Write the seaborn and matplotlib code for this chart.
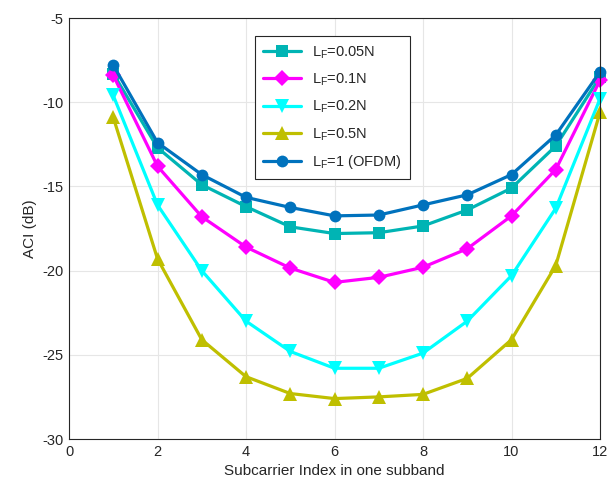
import pandas as pd
import matplotlib.pyplot as plt
import seaborn as sns
import numpy as np

# subcarrier index and ACI per filter length (dB)
subcarrier = [1, 2, 3, 4, 5, 6, 7, 8, 9, 10, 11, 12]

aci_005 = [-8.3, -12.7, -14.9, -16.2, -17.4, -17.8, -17.75, -17.35, -16.4, -15.1, -12.6, -8.5]
aci_01 = [-8.4, -13.8, -16.8, -18.6, -19.85, -20.7, -20.4, -19.8, -18.7, -16.75, -14.0, -8.7]
aci_02 = [-9.6, -16.1, -20.0, -23.0, -24.8, -25.8, -25.8, -24.9, -23.0, -20.3, -16.3, -9.8]
aci_05 = [-10.9, -19.3, -24.1, -26.3, -27.3, -27.6, -27.5, -27.35, -26.4, -24.1, -19.7, -10.6]
aci_ofdm = [-7.8, -12.4, -14.3, -15.65, -16.25, -16.75, -16.7, -16.1, -15.5, -14.3, -11.95, -8.2]

labels = [r'$\mathregular{L_F}$=0.05N', r'$\mathregular{L_F}$=0.1N',
          r'$\mathregular{L_F}$=0.2N', r'$\mathregular{L_F}$=0.5N',
          r'$\mathregular{L_F}$=1 (OFDM)']
series = [aci_005, aci_01, aci_02, aci_05, aci_ofdm]
colors = ['#00B4B4', '#FF00FF', '#00FFFF', '#BFBF00', '#0072BD']
markers = ['s', 'D', 'v', '^', 'o']

rows = []
for lab, vals in zip(labels, series):
    for x, v in zip(subcarrier, vals):
        rows.append({'Subcarrier': x, 'ACI': v, 'Scheme': lab})
df = pd.DataFrame(rows)

sns.set_theme(style="whitegrid")
plt.rcParams['font.family'] = ['Liberation Sans', 'DejaVu Sans']
plt.rcParams['mathtext.fontset'] = 'custom'
plt.rcParams['mathtext.rm'] = 'Liberation Sans'
plt.rcParams['axes.unicode_minus'] = False

fig = plt.figure(figsize=(6.1, 4.92), dpi=100)
ax = fig.add_axes([69 / 610, 1 - 439 / 492, (600 - 69) / 610, (439 - 18) / 492])

sns.lineplot(data=df, x='Subcarrier', y='ACI', hue='Scheme', style='Scheme',
             hue_order=labels, style_order=labels, palette=colors,
             markers=markers, dashes=False, markersize=8.5, linewidth=2.3,
             markeredgewidth=0, ax=ax)

# triangles look smaller at the same size, bump them up a bit
for ln in ax.lines:
    ln.set_clip_on(False)
    if ln.get_marker() in ('v', '^'):
        ln.set_markersize(10.5)

ax.set_xlim(0, 12)
ax.set_ylim(-30, -5)
ax.set_xticks(np.arange(0, 13, 2))
ax.set_yticks(np.arange(-30, -4, 5))
ax.set_xlabel('Subcarrier Index in one subband', fontsize=11, color='#262626')
ax.set_ylabel('ACI (dB)', fontsize=11, color='#262626')
ax.tick_params(labelsize=10.5, colors='#262626', length=0, pad=4)
ax.grid(True, color='#e6e6e6', linewidth=0.8)
for s in ax.spines.values():
    s.set_color('#262626')
    s.set_linewidth(0.8)
ax.set_facecolor('white')

leg = ax.legend(loc='upper left', bbox_to_anchor=(0.35, 0.957), fontsize=10.5,
                frameon=True, fancybox=False, framealpha=1, edgecolor='#262626',
                handlelength=2.6, borderpad=0.55, labelspacing=0.75,
                borderaxespad=0)
leg.get_frame().set_linewidth(0.8)
for h in leg.legend_handles:
    if h.get_marker() in ('v', '^'):
        h.set_markersize(10.5)

fig.savefig('out.png', dpi=100)
